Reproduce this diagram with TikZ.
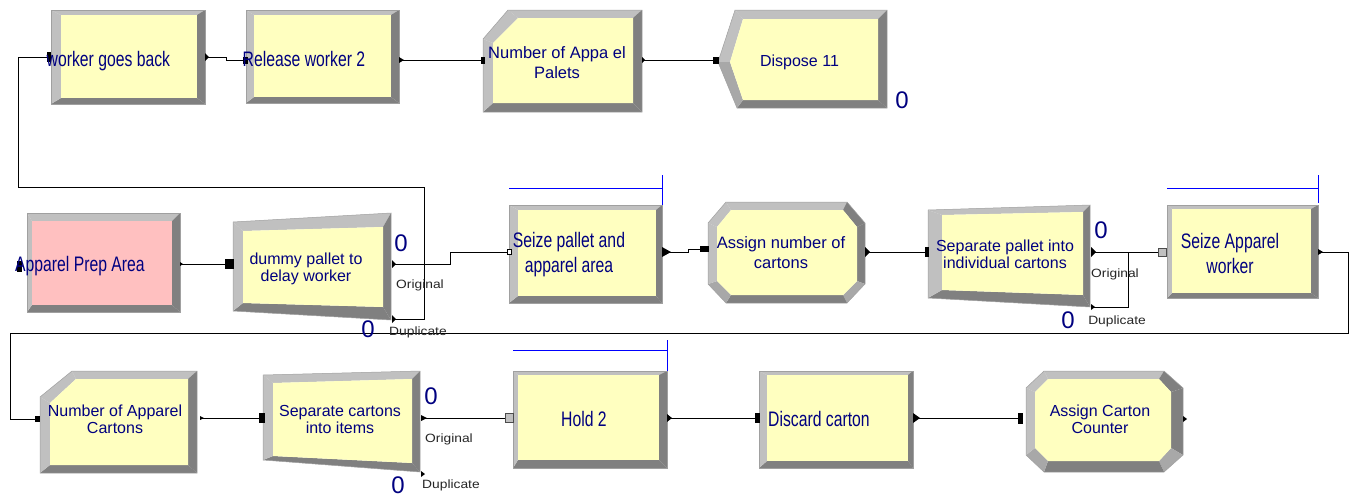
\documentclass[tikz,border=0pt]{standalone}
\usepackage{fontspec}
\setmainfont{Liberation Sans}
\definecolor{bevlight}{HTML}{C0C0C0}
\definecolor{bevmid}{HTML}{A8A8A8}
\definecolor{bevdark}{HTML}{808080}
\definecolor{modfill}{HTML}{FFFFC0}
\definecolor{pinkfill}{HTML}{FFC0C0}
\definecolor{navytext}{HTML}{000080}
\definecolor{edgegray}{HTML}{A0A0A0}
\definecolor{barblue}{HTML}{0000FF}
\definecolor{portgray}{HTML}{C0C0C0}
\newcommand\cond[1]{\scalebox{0.75}[1]{#1}}
% facets between outer points o1..on and inner points i1..in
\newcommand\polymod[3]{%
  \foreach \fc [count=\k] in {#3} {
    \pgfmathtruncatemacro\kn{mod(\k,#1)+1}
    \fill[\fc] (o\k) -- (o\kn) -- (i\kn) -- (i\k) -- cycle;
  }
  \fill[#2] (i1) \foreach \k in {2,...,#1}{ -- (i\k)} -- cycle;
  \draw[edgegray, line width=0.5pt] (o1) \foreach \k in {2,...,#1}{ -- (o\k)} -- cycle;
}
\newcommand\rectpts[8]{%
  \coordinate (o1) at (#1,#2); \coordinate (o2) at (#3,#2);
  \coordinate (o3) at (#3,#4); \coordinate (o4) at (#1,#4);
  \coordinate (i1) at ({#1+#5},{#2+#6}); \coordinate (i2) at ({#3-#7},{#2+#6});
  \coordinate (i3) at ({#3-#7},{#4-#8}); \coordinate (i4) at ({#1+#5},{#4-#8});}
\newcommand\extri[3]{\fill[black] (#1) ++(0,-#3) -- ++(#2,#3) -- ++(-#2,#3) -- cycle;}
\newcommand\portsq[4]{\filldraw[#4, line width=0.4pt] ([shift={(0,{-#3/2})}]#1) rectangle ++(#2,#3);}
\begin{document}
\begin{tikzpicture}[x=1pt,y=-1pt,
  conn/.style={draw=black, line width=0.9pt},
  bar/.style={draw=barblue, line width=1pt},
  bigtxt/.style={text=navytext, font=\fontsize{21}{25}\selectfont, inner sep=0, align=center},
  midtxt/.style={text=navytext, font=\fontsize{16}{17}\selectfont, inner sep=0, align=center},
  zero/.style={text=navytext, font=\fontsize{24}{26}\selectfont, inner sep=0},
  portlbl/.style={text=black!85, font=\fontsize{12}{13}\selectfont, inner sep=0}]
\useasboundingbox (0,0) rectangle (1351,496);
\fill[white] (0,0) rectangle (1351,496);

% ---------------- modules ----------------
% worker goes back
\rectpts{51}{10}{205}{104}{10}{5}{8}{6}
\polymod{4}{modfill}{bevlight,bevdark,bevdark,bevlight}
% Release worker 2
\rectpts{246}{10}{399}{103}{8}{5}{8}{6}
\polymod{4}{modfill}{bevlight,bevdark,bevdark,bevlight}
% Number of Apparel Pallets (record)
\coordinate (o1) at (483,39); \coordinate (o2) at (508,10); \coordinate (o3) at (642,10);
\coordinate (o4) at (642,112); \coordinate (o5) at (483,112);
\coordinate (i1) at (493,43); \coordinate (i2) at (518,18); \coordinate (i3) at (633,18);
\coordinate (i4) at (633,103); \coordinate (i5) at (493,103);
\polymod{5}{modfill}{bevlight,bevlight,bevdark,bevdark,bevlight}
% Dispose 11
\coordinate (o1) at (718,62); \coordinate (o2) at (735,10); \coordinate (o3) at (887,10);
\coordinate (o4) at (887,108); \coordinate (o5) at (737,108);
\coordinate (i1) at (730,62); \coordinate (i2) at (743,19); \coordinate (i3) at (878,19);
\coordinate (i4) at (878,100); \coordinate (i5) at (743,100);
\polymod{5}{modfill}{bevlight,bevlight,bevdark,bevdark,bevmid}
% Apparel Prep Area
\rectpts{27}{213}{180}{312}{5}{8}{8}{7}
\polymod{4}{pinkfill}{bevlight,bevdark,bevdark,bevlight}
% dummy pallet to delay worker (separate)
\coordinate (o1) at (233,222); \coordinate (o2) at (391,213); \coordinate (o3) at (391,320); \coordinate (o4) at (233,311);
\coordinate (i1) at (243,231); \coordinate (i2) at (383,227); \coordinate (i3) at (383,307); \coordinate (i4) at (243,303);
\polymod{4}{modfill}{bevlight,bevdark,bevdark,bevlight}
% Seize pallet and apparel area
\rectpts{509}{205}{662}{303}{9}{5}{6}{7}
\polymod{4}{modfill}{bevlight,bevdark,bevdark,bevlight}
% Assign number of cartons (octagon)
\coordinate (o1) at (726,202); \coordinate (o2) at (847,202); \coordinate (o3) at (865,223); \coordinate (o4) at (865,284);
\coordinate (o5) at (847,303); \coordinate (o6) at (726,303); \coordinate (o7) at (708,284); \coordinate (o8) at (708,223);
\coordinate (i1) at (731,210); \coordinate (i2) at (843,210); \coordinate (i3) at (857,227); \coordinate (i4) at (857,281);
\coordinate (i5) at (843,295); \coordinate (i6) at (731,295); \coordinate (i7) at (717,281); \coordinate (i8) at (717,227);
\polymod{8}{modfill}{bevlight,bevdark,bevdark,bevmid,bevdark,bevmid,bevlight,bevlight}
% Separate pallet into individual cartons
\coordinate (o1) at (928,210); \coordinate (o2) at (1090,205); \coordinate (o3) at (1090,307); \coordinate (o4) at (928,298);
\coordinate (i1) at (942,215); \coordinate (i2) at (1083,212); \coordinate (i3) at (1083,295); \coordinate (i4) at (942,290);
\polymod{4}{modfill}{bevlight,bevdark,bevdark,bevlight}
% Seize Apparel worker
\rectpts{1167}{205}{1318}{298}{5}{4}{7}{5}
\polymod{4}{modfill}{bevlight,bevdark,bevdark,bevlight}
% Number of Apparel Cartons (record)
\coordinate (o1) at (40,397); \coordinate (o2) at (72,371); \coordinate (o3) at (197,371);
\coordinate (o4) at (197,473); \coordinate (o5) at (40,473);
\coordinate (i1) at (50,403); \coordinate (i2) at (76,379); \coordinate (i3) at (188,379);
\coordinate (i4) at (188,465); \coordinate (i5) at (50,465);
\polymod{5}{modfill}{bevlight,bevlight,bevdark,bevdark,bevlight}
% Separate cartons into items
\coordinate (o1) at (263,375); \coordinate (o2) at (420,371); \coordinate (o3) at (420,472); \coordinate (o4) at (263,460);
\coordinate (i1) at (273,383); \coordinate (i2) at (412,379); \coordinate (i3) at (412,463); \coordinate (i4) at (273,456);
\polymod{4}{modfill}{bevlight,bevdark,bevdark,bevlight}
% Hold 2
\rectpts{513}{371}{667}{468}{5}{4}{8}{8}
\polymod{4}{modfill}{bevlight,bevdark,bevdark,bevlight}
% Discard carton
\rectpts{759}{371}{913}{468}{8}{4}{5}{7}
\polymod{4}{modfill}{bevlight,bevdark,bevdark,bevlight}
% Assign Carton Counter (octagon)
\coordinate (o1) at (1044,371); \coordinate (o2) at (1164,371); \coordinate (o3) at (1183,388); \coordinate (o4) at (1183,455);
\coordinate (o5) at (1164,472); \coordinate (o6) at (1044,472); \coordinate (o7) at (1026,455); \coordinate (o8) at (1026,388);
\coordinate (i1) at (1048,379); \coordinate (i2) at (1159,379); \coordinate (i3) at (1171,392); \coordinate (i4) at (1171,448);
\coordinate (i5) at (1159,461); \coordinate (i6) at (1048,461); \coordinate (i7) at (1035,448); \coordinate (i8) at (1035,392);
\polymod{8}{modfill}{bevlight,bevdark,bevdark,bevmid,bevdark,bevmid,bevlight,bevlight}

% ---------------- resource bars ----------------
\coordinate (spBarL) at (509,188); \coordinate (spBarR) at (662,188);
\draw[bar] (spBarL) -- (spBarR); \draw[bar] (662,175) -- (662,205);
\coordinate (saBarL) at (1167,188); \coordinate (saBarR) at (1318,188);
\draw[bar] (saBarL) -- (saBarR); \draw[bar] (1318,175) -- (1318,203);
\coordinate (h2BarL) at (513,350); \coordinate (h2BarR) at (667,350);
\draw[bar] (h2BarL) -- (h2BarR); \draw[bar] (667,340) -- (667,371);

% ---------------- ports ----------------
\coordinate (wgbIn) at (47,57);   \coordinate (wgbOut) at (205,57);
\coordinate (rw2In) at (243,60);  \coordinate (rw2Out) at (399,60);
\coordinate (napIn) at (481,60);  \coordinate (napOut) at (642,60);
\coordinate (dispIn) at (713,60);
\coordinate (apaIn) at (17,266);  \coordinate (apaOut) at (180,264);
\coordinate (dumIn) at (225,264); \coordinate (dumOrig) at (392,264); \coordinate (dumDup) at (392,319);
\coordinate (spIn) at (507,252);  \coordinate (spOut) at (662,252);
\coordinate (asnIn) at (700,249); \coordinate (asnOut) at (865,252);
\coordinate (spiIn) at (925,252); \coordinate (spiOrig) at (1091,252); \coordinate (spiDup) at (1091,307);
\coordinate (spiJoin) at (1128,252);
\coordinate (saIn) at (1158,252); \coordinate (saOut) at (1318,252);
\coordinate (nacIn) at (35,419);  \coordinate (nacOut) at (200,418);
\coordinate (sciIn) at (259,418); \coordinate (sciOrig) at (421,418); \coordinate (sciDup) at (421,474);
\coordinate (h2In) at (505,418);  \coordinate (h2Out) at (667,418);
\coordinate (dcIn) at (755,418);  \coordinate (dcOut) at (913,418);
\coordinate (accIn) at (1018,418); \coordinate (accOut) at (1183,419);

% ---------------- connectors ----------------
\draw[conn] (wgbOut) -- (226,57) -- (226,60) -- (rw2In);
\draw[conn] (rw2Out) -- (napIn);
\draw[conn] (napOut) -- (dispIn);
\draw[conn] (apaOut) -- (dumIn);
\draw[conn] (dumOrig) -- (450,264) -- (450,252) -- (spIn);
\draw[conn] (dumDup) -- (424,319) -- (424,187) -- (18,187) -- (18,57) -- (wgbIn);
\draw[conn] (spOut) -- (688,252) -- (688,249) -- (asnIn);
\draw[conn] (asnOut) -- (spiIn);
\draw[conn] (spiOrig) -- (saIn);
\draw[conn] (spiDup) -- (1128,307) -- (spiJoin);
\draw[conn] (saOut) -- (1348,252) -- (1348,333) -- (10,333) -- (10,419) -- (nacIn);
\draw[conn] (nacOut) -- (sciIn);
\draw[conn] (sciOrig) -- (h2In);
\draw[conn] (h2Out) -- (dcIn);
\draw[conn] (dcOut) -- (accIn);

% ---------------- port markers ----------------
\portsq{wgbIn}{3}{9}{fill=black,draw=black}
\portsq{rw2In}{4}{6}{fill=black,draw=black}
\portsq{napIn}{3}{6}{fill=black,draw=black}
\portsq{dispIn}{5}{6}{fill=black,draw=black}
\portsq{apaIn}{4}{10}{fill=black,draw=black}
\portsq{dumIn}{8}{9}{fill=black,draw=black}
\portsq{spIn}{4}{5}{fill=white,draw=black}
\portsq{asnIn}{8}{5}{fill=black,draw=black}
\portsq{spiIn}{3}{9}{fill=black,draw=black}
\portsq{saIn}{8}{8}{fill=portgray,draw=black!70}
\portsq{nacIn}{4}{5}{fill=black,draw=black}
\portsq{sciIn}{5}{9}{fill=black,draw=black}
\portsq{h2In}{8}{9}{fill=portgray,draw=black!70}
\portsq{dcIn}{4}{9}{fill=black,draw=black}
\portsq{accIn}{4}{10}{fill=black,draw=black}
\extri{wgbOut}{4}{4}
\extri{rw2Out}{5}{3}
\extri{napOut}{3}{3}
\extri{apaOut}{3}{2}
\extri{dumOrig}{4}{4}
\extri{dumDup}{4}{4}
\extri{spOut}{9}{5}
\extri{asnOut}{5}{5}
\extri{spiOrig}{5}{5}
\extri{spiDup}{4}{3}
\extri{saOut}{5}{3}
\extri{nacOut}{4}{2}
\extri{sciOrig}{6}{3}
\extri{sciDup}{4}{3}
\extri{h2Out}{5}{4}
\extri{dcOut}{7}{5}
\extri{accOut}{4}{3}

% ---------------- texts ----------------
\node[bigtxt, anchor=base west] (wgbTxt) at (46.5,66.7) {\cond{worker goes back}};
\node[bigtxt, anchor=base west] (rw2Txt) at (242.5,66.7) {\cond{Release worker 2}};
\node[midtxt, font=\fontsize{16.5}{20}\selectfont] (napTxt) at (557,64) {\strut Number of Appa el\\\strut Palets};
\node[midtxt, anchor=base] (dispTxt) at (799.5,66.7) {Dispose 11};
\node[zero] (dispZero) at (902,100) {0};
\node[bigtxt, anchor=base west] (apaTxt) at (15,271.7) {\cond{Apparel Prep Area}};
\node[midtxt] (dumTxt) at (306,270) {\strut dummy pallet to\\\strut delay worker};
\node[zero] (dumZeroA) at (401,243) {0};
\node[zero] (dumZeroB) at (368,329) {0};
\node[portlbl] (dumOrigLbl) at (420,285) {\scalebox{1.15}[1]{Original}};
\node[portlbl] (dumDupLbl) at (418,332) {\scalebox{1.15}[1]{Duplicate}};
\node[bigtxt] (spTxt) at (569,254.5) {\strut\cond{Seize pallet and}\\\strut\cond{apparel area}};
\node[midtxt, font=\fontsize{16.5}{20}\selectfont] (asnTxt) at (781,254.5) {\strut Assign number of\\\strut cartons};
\node[midtxt] (spiTxt) at (1005,257) {\strut Separate pallet into\\\strut individual cartons};
\node[zero] (spiZeroA) at (1101,230) {0};
\node[zero] (spiZeroB) at (1068,320) {0};
\node[portlbl] (spiOrigLbl) at (1115,274) {\scalebox{1.15}[1]{Original}};
\node[portlbl] (spiDupLbl) at (1117,321) {\scalebox{1.15}[1]{Duplicate}};
\node[bigtxt] (saTxt) at (1230,255.5) {\strut\cond{Seize Apparel}\\\strut\cond{worker}};
\node[midtxt] (nacTxt) at (115,421.7) {\strut Number of Apparel\\\strut Cartons};
\node[midtxt] (sciTxt) at (340,421.7) {\strut Separate cartons\\\strut into items};
\node[zero] (sciZeroA) at (431,396) {0};
\node[zero] (sciZeroB) at (398,485) {0};
\node[portlbl] (sciOrigLbl) at (449,439) {\scalebox{1.15}[1]{Original}};
\node[portlbl] (sciDupLbl) at (451,485) {\scalebox{1.15}[1]{Duplicate}};
\node[bigtxt, anchor=base] (h2Txt) at (584,426) {\cond{Hold 2}};
\node[bigtxt, anchor=base west] (dcTxt) at (768,426) {\cond{Discard carton}};
\node[midtxt] (accTxt) at (1100,422) {\strut Assign Carton\\\strut Counter};
\end{tikzpicture}
\end{document}
